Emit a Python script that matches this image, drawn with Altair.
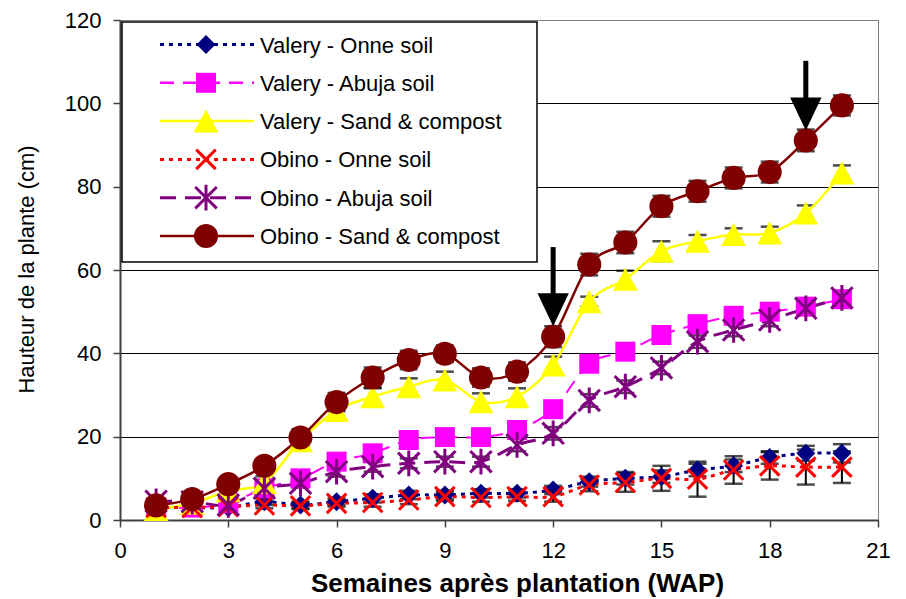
import altair as alt
import pandas as pd

# ---------------- data ----------------
weeks = list(range(1, 21))

series_names = [
    "Valery - Onne soil",
    "Valery - Abuja soil",
    "Valery - Sand & compost",
    "Obino - Onne soil",
    "Obino - Abuja soil",
    "Obino - Sand & compost",
]

valery_onne = [3, 3, 3, 4.4, 3.6, 4.4, 5.2, 6, 6, 6.4, 6.4, 7.2, 9.2, 10, 10.4, 12, 13, 15, 16, 16]
valery_abuja = [3, 3, 4, 7.6, 10, 14, 16, 19.2, 19.9, 19.9, 21.6, 26.6, 37.5, 40.4, 44.4, 47, 49, 50, 51.2, 53]
valery_sand = [2.5, 4, 7, 9, 19, 26.3, 29.6, 32, 33.6, 28.4, 29.6, 37.2, 52.4, 57.8, 64.5, 66.9, 68.5, 68.9, 73.7, 83.3]
obino_onne = [3, 3, 3.2, 3.6, 3.4, 4, 4.2, 4.8, 5.6, 5.4, 5.6, 5.6, 8.4, 9, 10, 9.8, 12, 13, 12.7, 12.7]
obino_abuja = [4.5, 4.4, 3.6, 7.6, 8.8, 11.6, 12.8, 13.6, 14, 14, 18, 20.8, 28.7, 32, 36.5, 42.8, 45.6, 48, 50.8, 53.3]
obino_sand = [3.5, 5, 8.6, 13, 19.8, 28.3, 34.2, 38.4, 39.9, 34.2, 35.6, 44, 61.3, 66.6, 75.3, 78.9, 82.1, 83.5, 91.1, 99.5]

# standard errors (error bars)
valery_onne_err = [0.5, 0.5, 0.6, 0.8, 0.8, 0.8, 1, 1, 1, 1, 1, 1, 1.2, 1.5, 1.5, 1.5, 1.5, 1.5, 1.8, 2.2]
valery_abuja_err = [0.6, 0.6, 0.8, 1, 1, 1, 1, 1.2, 1.2, 1.2, 1.2, 1.5, 1.5, 1.5, 1.5, 1.5, 1.5, 1.5, 1.5, 1.5]
valery_sand_err = [0.8, 1, 1, 1.5, 1.5, 2, 2, 2, 2, 2, 2, 2, 1.2, 2, 2.4, 1.5, 1.5, 1.5, 1.8, 1.8]
obino_onne_err = [0.5, 0.5, 0.6, 0.8, 0.8, 0.8, 1, 1, 1, 1, 1, 1.2, 1.5, 2.2, 3, 4.2, 3.3, 3.3, 4.2, 3.8]
obino_abuja_err = [0.6, 0.6, 0.8, 1, 1, 1.2, 1.2, 1.2, 1.2, 1.2, 1.5, 1.5, 1.5, 1.5, 1.5, 1.5, 1.5, 1.5, 1.5, 1.5]
obino_sand_err = [1, 1, 1.5, 1.5, 2, 2.2, 2.4, 2.2, 2, 2.2, 2.2, 2.5, 2.6, 2.6, 2.5, 2.5, 2.5, 2.5, 2.6, 2.4]

# arrows (week, top of shaft, tip)
arrow_week = [12, 19]
arrow_top = [65.5, 110.2]
arrow_tip = [46.5, 93.5]

x_ticks = [0, 3, 6, 9, 12, 15, 18, 21]
y_ticks = [0, 20, 40, 60, 80, 100, 120]

# ---------------- styles ----------------
FONT = "Liberation Sans"
colors = ["#000080", "#FF00FF", "#FFFF00", "#FF0000", "#800080", "#800000"]
dashes = [[4, 5], [14, 9], None, [4, 5], [16, 9], None]
line_widths = [3, 2, 2.5, 3, 3, 2.5]
TRI = "M0,-1L1.08,1L-1.08,1Z"
XSHAPE = "M-1,-1L1,1M-1,1L1,-1"
AST = "M-1,-1L1,1M-1,1L1,-1M0,-1.2L0,1.2"
shapes = ["diamond", "square", TRI, XSHAPE, AST, "circle"]
sizes = [361, 400, 529, 380, 460, 580]
filled = [True, True, True, False, False, True]

heights = [valery_onne, valery_abuja, valery_sand, obino_onne, obino_abuja, obino_sand]
errors = [valery_onne_err, valery_abuja_err, valery_sand_err, obino_onne_err, obino_abuja_err, obino_sand_err]

rows = []
for name, h, e in zip(series_names, heights, errors):
    for w, v, s in zip(weeks, h, e):
        rows.append({"series": name, "week": w, "height": v, "lo": v - s, "hi": v + s})
df = pd.DataFrame(rows)

arrows = pd.DataFrame({"week": arrow_week, "top": arrow_top, "tip": arrow_tip})
arrows["shaft_end"] = arrows["tip"] + 4

X_TITLE = "Semaines après plantation (WAP)"
Y_TITLE = "Hauteur de la plante (cm)"

x_axis = alt.Axis(
    values=x_ticks, grid=False, title=X_TITLE, labelFont=FONT, labelFontSize=22,
    labelColor="black", labelPadding=13, tickSize=7, tickColor="#404040", tickWidth=1.5,
    domainColor="#404040", domainWidth=2, titleFont=FONT, titleFontSize=26,
    titleFontWeight="bold", titleColor="black", titleX=397, titleY=71,
    titleAlign="center", titleBaseline="alphabetic", labelFlush=False,
)
y_axis = alt.Axis(
    values=y_ticks, grid=True,
    gridColor={"condition": {"test": "datum.value === 120", "value": "#808080"}, "value": "black"},
    gridWidth=1, title=Y_TITLE, labelFont=FONT, labelFontSize=22, labelColor="black",
    labelPadding=12, tickSize=7, tickColor="#404040", tickWidth=1.5,
    domainColor="#404040", domainWidth=2, titleFont=FONT, titleFontSize=22,
    titleFontWeight="normal", titleColor="black", titleX=-87, titleY=249,
    titleAngle=270, titleAlign="center", titleBaseline="alphabetic", labelFlush=False,
)
x_scale = alt.Scale(domain=[0, 21], nice=False, zero=False)
y_scale = alt.Scale(domain=[0, 120], nice=False)


def X(field):
    return alt.X(f"{field}:Q", scale=x_scale, axis=x_axis, title=X_TITLE)


def Y(field):
    return alt.Y(f"{field}:Q", scale=y_scale, axis=y_axis, title=Y_TITLE)


base = alt.Chart(df)
err_layers, line_layers, point_layers = [], [], []
for i, name in enumerate(series_names):
    sub = base.transform_filter(alt.datum.series == name)
    err_layers.append(sub.mark_rule(color="black", strokeWidth=2).encode(x=X("week"), y=Y("lo"), y2="hi"))
    for f in ("lo", "hi"):
        err_layers.append(sub.mark_tick(orient="horizontal", color="black", size=18, thickness=2.5)
                          .encode(x=X("week"), y=Y(f)))
    lkw = dict(color=colors[i], strokeWidth=line_widths[i], interpolate="cardinal")
    if dashes[i]:
        lkw["strokeDash"] = dashes[i]
    line_layers.append(sub.mark_line(**lkw).encode(x=X("week"), y=Y("height")))
    if filled[i]:
        pm = sub.mark_point(shape=shapes[i], size=sizes[i], filled=True, color=colors[i], opacity=1, strokeWidth=0)
    else:
        pm = sub.mark_point(shape=shapes[i], size=sizes[i], filled=False, color=colors[i], opacity=1, strokeWidth=3)
    point_layers.append(pm.encode(x=X("week"), y=Y("height")))

arrow_shaft = alt.Chart(arrows).mark_rule(color="black", strokeWidth=5).encode(
    x=X("week"), y=Y("top"), y2="shaft_end")
arrow_head = alt.Chart(arrows).mark_point(
    shape="M-0.95,-2L0.95,-2L0,0Z", size=1089, filled=True, color="black", opacity=1, strokeWidth=0
).encode(x=X("week"), y=Y("tip"))

# ---------------- legend (drawn in pixel space) ----------------
one = pd.DataFrame({"k": [0]})
legend_layers = [
    alt.Chart(one).mark_rect(fill="white", stroke="black", strokeWidth=1.5).encode(
        x=alt.value(2), x2=alt.value(417), y=alt.value(2), y2=alt.value(242))
]
for i, name in enumerate(series_names):
    py = 24.5 + 38.3 * i
    lkw = dict(color=colors[i], strokeWidth=max(line_widths[i], 2.5))
    if dashes[i]:
        lkw["strokeDash"] = dashes[i]
    legend_layers.append(alt.Chart(one).mark_rule(**lkw).encode(
        x=alt.value(40), x2=alt.value(134), y=alt.value(py)))
    if filled[i]:
        pm = alt.Chart(one).mark_point(shape=shapes[i], size=sizes[i], filled=True, color=colors[i], opacity=1, strokeWidth=0)
    else:
        pm = alt.Chart(one).mark_point(shape=shapes[i], size=sizes[i], filled=False, color=colors[i], opacity=1, strokeWidth=3)
    legend_layers.append(pm.encode(x=alt.value(86), y=alt.value(py)))
    legend_layers.append(alt.Chart(one).mark_text(
        align="left", baseline="middle", font=FONT, fontSize=22, color="black"
    ).encode(x=alt.value(140), y=alt.value(py + 1), text=alt.value(name)))

chart = alt.layer(
    *err_layers, *line_layers, *point_layers, arrow_shaft, arrow_head, *legend_layers
).properties(
    width=758, height=500,
    padding={"left": 112, "top": 12, "right": 20, "bottom": 78},
    autosize=alt.AutoSizeParams(type="none"),
    background="white",
).configure_view(stroke="#808080", strokeWidth=1)

chart.save("out.html", embed_options={"renderer": "svg", "actions": False})
